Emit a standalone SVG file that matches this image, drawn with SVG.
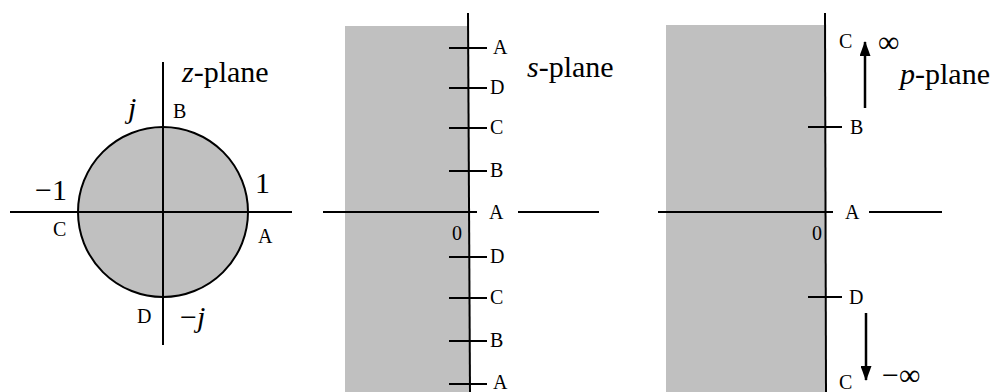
<svg xmlns="http://www.w3.org/2000/svg" width="995" height="392" viewBox="0 0 995 392">
<style>
text{font-family:"Liberation Serif","Times New Roman",serif;fill:#000}
.big{font-size:30px}
.lab{font-size:20px}
.it{font-style:italic}
.ax{stroke:#000;stroke-width:2;fill:none}
.shade{fill:#c0c0c0;stroke:none}
.arr{stroke:#000;stroke-width:2.5;fill:none}
</style>
<defs>
<marker id="ah" markerWidth="15" markerHeight="11" refX="14" refY="5.5" orient="auto" markerUnits="userSpaceOnUse" viewBox="0 0 15 11">
<path d="M0,0 L15,5.5 L0,11 Z" fill="#000"/>
</marker>
</defs>
<g id="z-plane">
<circle cx="163" cy="212" r="85" fill="#c0c0c0" stroke="#000" stroke-width="2"/>
<line class="ax" x1="10" y1="212" x2="292" y2="212"/>
<line class="ax" x1="163" y1="62" x2="163" y2="345"/>
<text class="big" x="182" y="82"><tspan class="it">z</tspan>-plane</text>
<text class="big it" x="128" y="118">j</text>
<text class="lab" x="173" y="118">B</text>
<text class="big" x="35" y="200">−1</text>
<text class="big" x="255" y="193">1</text>
<text class="lab" x="53" y="236">C</text>
<text class="lab" x="258" y="243">A</text>
<text class="lab" x="137" y="323">D</text>
<text class="big" x="180" y="327">−<tspan class="it">j</tspan></text>
</g>
<g id="s-plane">
<rect class="shade" x="345" y="26" width="124" height="366"/>
<line class="ax" x1="468" y1="13" x2="470" y2="392"/>
<line class="ax" x1="323" y1="212" x2="477" y2="212"/>
<line class="ax" x1="518" y1="212" x2="599" y2="212"/>
<g class="ax">
<line x1="449" y1="48" x2="487" y2="48"/>
<line x1="449" y1="88" x2="487" y2="88"/>
<line x1="449" y1="128" x2="487" y2="128"/>
<line x1="449" y1="171" x2="487" y2="171"/>
<line x1="449" y1="257" x2="487" y2="257"/>
<line x1="449" y1="298" x2="487" y2="298"/>
<line x1="449" y1="341" x2="487" y2="341"/>
<line x1="449" y1="384" x2="487" y2="384"/>
</g>
<text class="lab" x="493" y="54">A</text>
<text class="lab" x="490" y="94">D</text>
<text class="lab" x="490" y="134">C</text>
<text class="lab" x="490" y="177">B</text>
<text class="lab" x="489" y="219">A</text>
<text class="lab" x="452" y="240">0</text>
<text class="lab" x="490" y="263">D</text>
<text class="lab" x="490" y="304">C</text>
<text class="lab" x="490" y="347">B</text>
<text class="lab" x="493" y="389">A</text>
<text class="big" x="527" y="77"><tspan class="it">s</tspan>-plane</text>
</g>
<g id="p-plane">
<rect class="shade" x="666" y="25" width="160" height="367"/>
<line class="ax" x1="825" y1="13" x2="826" y2="392"/>
<line class="ax" x1="658" y1="212" x2="833" y2="212"/>
<line class="ax" x1="869" y1="212" x2="942" y2="212"/>
<line class="ax" x1="808" y1="127" x2="842" y2="127"/>
<line class="ax" x1="808" y1="297" x2="842" y2="297"/>
<text class="lab" x="845" y="219">A</text>
<text class="lab" x="812" y="240">0</text>
<text class="lab" x="850" y="134">B</text>
<text class="lab" x="849" y="304">D</text>
<text class="lab" x="839" y="48">C</text>
<text class="big" x="878" y="52">∞</text>
<text class="big" x="900" y="84"><tspan class="it">p</tspan>-plane</text>
<text class="lab" x="839" y="389">C</text>
<text class="big" x="882" y="385">−∞</text>
</g>
<g id="connectors">
<line class="arr" x1="865" y1="108" x2="865" y2="42" marker-end="url(#ah)"/>
<line class="arr" x1="866" y1="313" x2="866" y2="380" marker-end="url(#ah)"/>
</g>
</svg>
